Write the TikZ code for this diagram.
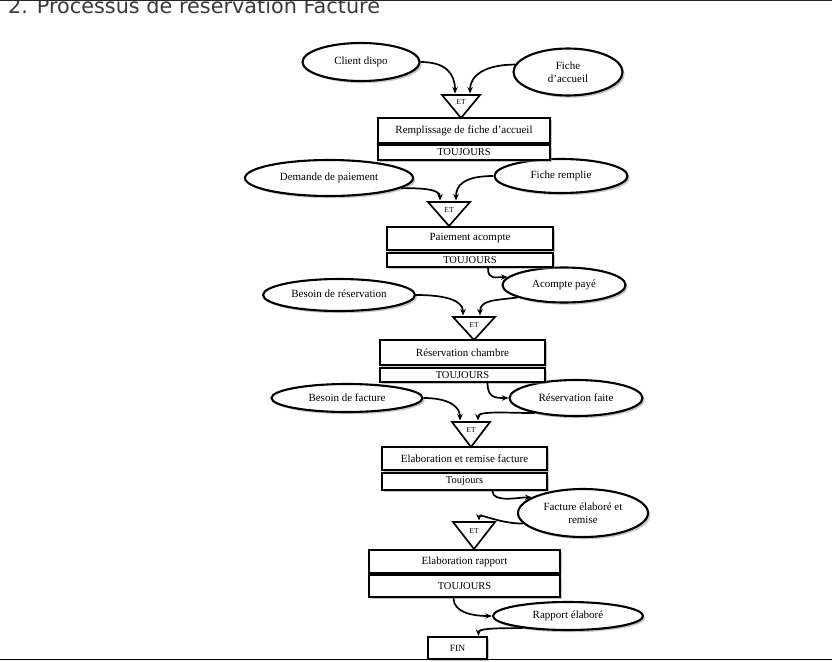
\documentclass[tikz,border=0pt]{standalone}
\usepackage{fontspec}
\setmainfont{Liberation Serif}
\newfontfamily\titlefont{DejaVu Sans}
\usetikzlibrary{shapes.geometric,shadows,arrows.meta,calc}
\definecolor{titlegray}{HTML}{3A3A3A}
\begin{document}
\begin{tikzpicture}[x=1pt,y=-1pt,
  ell/.style={ellipse, draw, line width=2.1pt, fill=white, inner sep=0pt,
    drop shadow={shadow xshift=2.2pt, shadow yshift=-2.2pt, fill=black!45},
    font=\fontsize{11}{13}\selectfont, align=center},
  mainbox/.style={rectangle, draw, line width=2.3pt, fill=white, inner sep=0pt,
    drop shadow={shadow xshift=2.2pt, shadow yshift=-2.2pt, fill=black!45},
    font=\fontsize{11}{13}\selectfont},
  condbox/.style={mainbox, font=\fontsize{10.5}{12}\selectfont},
  gate/.style={draw, line width=1.7pt, fill=white, line join=miter},
  gatelabel/.style={inner sep=0pt, font=\fontsize{7.5}{8}\selectfont},
  flow/.style={line width=1.7pt, -{Stealth[length=6.5pt,width=5.5pt]}}
]
\useasboundingbox (0,0) rectangle (832,661);

% title and frame lines
\node[anchor=base west, inner sep=0pt, text=titlegray,
  font=\titlefont\fontsize{20.8}{24}\selectfont] (title) at (8,13.5) {2. Processus de reservation Facture};
\draw[line width=1.2pt, black!85] (0,0.6) -- (832,0.6);
\draw[line width=1.5pt, black] (0,659.5) -- (832,659.5);

% ellipses (events)
\node[ell, minimum width=117pt, minimum height=38pt] (cd) at (361,62) {\raisebox{2pt}{Client dispo}};
\node[ell, minimum width=109pt, minimum height=47pt] (fa) at (568,72) {Fiche\\d’accueil};
\node[ell, minimum width=168pt, minimum height=36pt] (dp) at (329,178) {Demande de paiement};
\node[ell, minimum width=133pt, minimum height=34pt] (fr) at (561,176) {Fiche remplie};
\node[ell, minimum width=152pt, minimum height=32pt] (br) at (339,295) {\raisebox{2pt}{Besoin de réservation}};
\node[ell, minimum width=123pt, minimum height=35pt] (ap) at (564,285) {\raisebox{1pt}{Acompte payé}};
\node[ell, minimum width=151pt, minimum height=28pt] (bf) at (347,398) {\raisebox{1pt}{Besoin de facture}};
\node[ell, minimum width=133pt, minimum height=36pt] (rf) at (576,398) {Réservation faite};
\node[ell, minimum width=130pt, minimum height=48pt] (fe) at (583,513) {Facture élaboré et\\remise};
\node[ell, minimum width=150pt, minimum height=28pt] (re) at (568,616) {Rapport élaboré};

% operations
\node[mainbox, minimum width=172pt, minimum height=25pt] (b1) at (464,130.5) {Remplissage de fiche d’accueil};
\node[condbox, minimum width=172pt, minimum height=15pt] (t1) at (464,152.5) {TOUJOURS};
\node[mainbox, minimum width=166pt, minimum height=23pt] (b2) at (470,238.5) {Paiement acompte};
\node[condbox, minimum width=166pt, minimum height=14pt] (t2) at (470,260) {TOUJOURS};
\node[mainbox, minimum width=165pt, minimum height=25pt] (b3) at (462.5,352.5) {Réservation chambre};
\node[condbox, minimum width=165pt, minimum height=14pt] (t3) at (462.5,375) {TOUJOURS};
\node[mainbox, minimum width=165pt, minimum height=23pt] (b4) at (464.5,458.5) {Elaboration et remise facture};
\node[condbox, minimum width=165pt, minimum height=17pt] (t4) at (464.5,481.5) {Toujours};
\node[mainbox, minimum width=191pt, minimum height=23pt] (b5) at (464.5,561.5) {Elaboration rapport};
\node[condbox, minimum width=191pt, minimum height=22pt] (t5) at (464.5,586) {TOUJOURS};
\node[mainbox, font=\fontsize{9.5}{11}\selectfont, minimum width=59pt, minimum height=22pt] (fin) at (457.5,648) {FIN};

% synchronisation gates
\draw[gate] (442,95) -- (480,95) -- (461,118) -- cycle;
\node[gatelabel] (g1) at (461,102.5) {ET};
\coordinate (g1a) at (455,93.5);
\coordinate (g1b) at (470,93.5);

\draw[gate] (428,202) -- (470,202) -- (449,226) -- cycle;
\node[gatelabel] (g2) at (449,210) {ET};
\coordinate (g2a) at (440,200.5);
\coordinate (g2b) at (456,200.5);

\draw[gate] (453,317) -- (495,317) -- (474,340) -- cycle;
\node[gatelabel] (g3) at (474,325) {ET};
\coordinate (g3a) at (463,315.5);
\coordinate (g3b) at (480,315.5);

\draw[gate] (452,422) -- (490,422) -- (471,447) -- cycle;
\node[gatelabel] (g4) at (471,430.5) {ET};
\coordinate (g4a) at (460,420.5);
\coordinate (g4b) at (478,420.5);

\draw[gate] (453,522) -- (495,522) -- (474,549) -- cycle;
\node[gatelabel] (g5) at (474,531) {ET};
\coordinate (g5b) at (479,520.5);

% connectors
\draw[flow] (cd.east) .. controls +(25,0) and +(0,-20) .. (g1a);
\draw[flow] (fa.172) .. controls +(-30,0) and +(0,-18) .. (g1b);
\draw[flow] (dp.-8) .. controls +(18,0) and +(0,-12) .. (g2a);
\draw[flow] (fr.west) .. controls +(-30,0) and +(0,-15) .. (g2b);

\draw[flow] ($(t2.south)+(18,0)$) .. controls +(0,12) and +(-12,0) .. (ap.172);
\draw[flow] (br.east) .. controls +(30,0) and +(0,-15) .. (g3a);
\draw[flow] (ap.195) .. controls +(-22,3) and +(0,-16) .. (g3b);

\draw[flow] ($(t3.south)+(25,0)$) .. controls +(0,14) and +(-14,0) .. (rf.west);
\draw[flow] (bf.east) .. controls +(25,0) and +(0,-14) .. (g4a);
\draw[flow] (rf.200) .. controls +(-25,0) and +(0,-10) .. (g4b);

\draw[flow] ($(t4.south)+(28,0)$) .. controls +(0,12) and +(-12,0) .. (fe.163);
\draw[flow] (fe.190) .. controls +(-25,0) and +(0,-8) .. (g5b);

\draw[flow] ($(t5.south)+(-11,0)$) .. controls +(0,14) and +(-20,0) .. (re.west);
\draw[flow] (re.195) .. controls +(-15,0) and +(0,-8) .. ($(fin.north)+(21,0)$);
\end{tikzpicture}
\end{document}
